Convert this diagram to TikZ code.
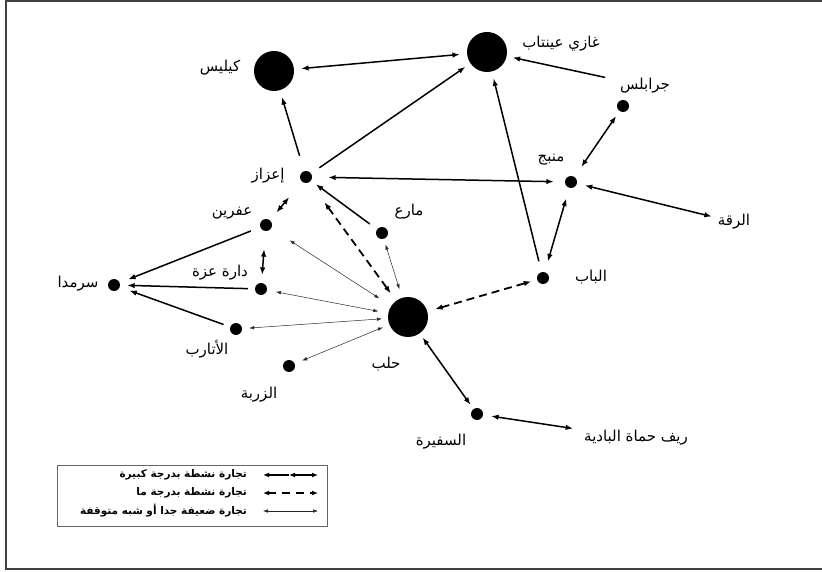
\documentclass[tikz,border=0pt]{standalone}
\usepackage{fontspec}
\usetikzlibrary{arrows.meta}
\TeXXeTstate=1
\newfontfamily\arabicfont[Script=Arabic]{DejaVu Sans}
\newcommand{\AR}[1]{\beginR #1\endR}
\begin{document}
\begin{tikzpicture}[x=1pt,y=-1pt,
  big/.style={circle,fill=black,minimum size=40pt,inner sep=0pt},
  small/.style={circle,fill=black,minimum size=12pt,inner sep=0pt},
  lbl/.style={font=\arabicfont\fontsize{15}{17}\selectfont,inner sep=1pt},
  legtext/.style={font=\arabicfont\bfseries\fontsize{10.5}{12}\selectfont,inner sep=0pt,anchor=east},
  strong/.style={line width=1.5pt,{Latex[length=7.5pt,width=5.5pt]}-{Latex[length=7.5pt,width=5.5pt]}},
  strongto/.style={line width=1.5pt,-{Latex[length=7.5pt,width=5.5pt]}},
  medium/.style={line width=1.8pt,dash pattern=on 8pt off 5pt,{Latex[length=7.5pt,width=5.5pt]}-{Latex[length=7.5pt,width=5.5pt]}},
  weak/.style={line width=0.5pt,black!85,{Latex[length=5pt,width=3.5pt]}-{Latex[length=5pt,width=3.5pt]}}
]
\useasboundingbox (0,0) rectangle (822,572);
\draw[black!75,line width=1.5pt] (823,1) -- (6,1) -- (6,569) -- (823,569);

% big nodes
\node[big] (kil) at (274,71) {};
\node[big] (gaz) at (487,52) {};
\node[big] (hal) at (408,317) {};
% small nodes
\node[small] (jar) at (623,106) {};
\node[small] (man) at (571,182) {};
\node[small] (aza) at (306,177) {};
\node[small] (afr) at (266,225) {};
\node[small] (dar) at (261,289) {};
\node[small] (sar) at (114,285) {};
\node[small] (atr) at (236,329) {};
\node[small] (zar) at (289,366) {};
\node[small] (mar) at (382,233) {};
\node[small] (bab) at (543,278) {};
\node[small] (saf) at (477,414) {};

% labels
\node[lbl] (lkil) at (220,68) {\AR{كيليس}};
\node[lbl] (lgaz) at (561,44) {\AR{غازي عينتاب}};
\node[lbl] (ljar) at (645,86) {\AR{جرابلس}};
\node[lbl] (lman) at (551,160) {\AR{منبج}};
\node[lbl] (lraq) at (734,222) {\AR{الرقة}};
\node[lbl] (laza) at (268,176) {\AR{إعزاز}};
\node[lbl] (lafr) at (232,213) {\AR{عفرين}};
\node[lbl] (lmar) at (409,212) {\AR{مارع}};
\node[lbl] (ldar) at (220,273) {\AR{دارة عزة}};
\node[lbl] (lsar) at (78,284) {\AR{سرمدا}};
\node[lbl] (latr) at (207,349) {\AR{الأتارب}};
\node[lbl] (lzar) at (259,395) {\AR{الزربة}};
\node[lbl] (lhal) at (386,364) {\AR{حلب}};
\node[lbl] (lbab) at (591,277) {\AR{الباب}};
\node[lbl] (lsaf) at (441,442) {\AR{السفيرة}};
\node[lbl] (lrif) at (636,438) {\AR{ريف حماة  البادية}};

% strong connectors
\draw[strong,shorten <=7pt,shorten >=7pt] (kil) -- (gaz);
\draw[strongto,shorten <=16pt,shorten >=7pt] (aza) -- (kil);
\draw[strongto,shorten <=10pt,shorten >=6pt] (aza) -- (gaz);
\draw[strongto,shorten <=14pt,shorten >=6pt] (ljar) -- (gaz);
\draw[strongto,shorten <=11pt,shorten >=7pt] (bab) -- (gaz);
\draw[strong,shorten <=6pt,shorten >=12pt] (jar) -- (man);
\draw[strong,shorten <=8pt,shorten >=5pt] (man) -- (lraq);
\draw[strong,shorten <=11pt,shorten >=11pt] (bab) -- (man);
\draw[strong,shorten <=16pt,shorten >=11pt] (aza) -- (man);
\draw[strong,shorten <=20pt,shorten >=10pt] (aza) -- (afr);
\draw[strongto,shorten <=9pt,shorten >=6pt] (mar) -- (aza);
\draw[strong,shorten <=18pt,shorten >=8pt] (afr) -- (dar);
\draw[strongto,shorten <=10pt,shorten >=9pt] (afr) -- (sar);
\draw[strongto,shorten <=7pt,shorten >=7pt] (dar) -- (sar);
\draw[strongto,shorten <=7pt,shorten >=10pt] (atr) -- (sar);
\draw[strong,shorten <=5pt,shorten >=5pt] (hal) -- (saf);
\draw[strong,shorten <=8pt,shorten >=10pt] (saf) -- (lrif);
% medium connectors
\draw[medium,shorten <=25pt,shorten >=9pt] (aza) -- (hal);
\draw[medium,shorten <=8pt,shorten >=6pt] (hal) -- (bab);
% weak connectors
\draw[weak,shorten <=14pt,shorten >=22pt] (hal) -- (afr);
\draw[weak,shorten <=10pt,shorten >=9pt] (hal) -- (dar);
\draw[weak,shorten <=6pt,shorten >=7pt] (hal) -- (atr);
\draw[weak,shorten <=7pt,shorten >=8pt] (hal) -- (zar);
\draw[weak,shorten <=9pt,shorten >=6pt] (hal) -- (mar);

% legend
\draw[black!60,line width=1pt] (57,465) rectangle (327,526);
\node[legtext] (t1) at (247,475) {\AR{تجارة نشطة بدرجة كبيرة}};
\node[legtext] (t2) at (247,493) {\AR{تجارة نشطة بدرجة ما}};
\node[legtext] (t3) at (247,511) {\AR{تجارة ضعيفة جدا أو شبه متوقفة}};
\coordinate (a1) at (263,475);
\coordinate (m1) at (289,475);
\coordinate (b1) at (318,475);
\coordinate (a2) at (263,493);
\coordinate (b2) at (318,493);
\coordinate (a3) at (263,511);
\coordinate (b3) at (318,511);
\draw[line width=1.5pt,{Latex[length=6pt,width=5pt]}-] (a1) -- (m1);
\draw[line width=1.5pt,{Latex[length=6pt,width=5pt]}-{Latex[length=6pt,width=5pt]}] (m1) -- (b1);
\draw[line width=1.5pt,dash pattern=on 8pt off 6pt,{Latex[length=6pt,width=5pt]}-{Latex[length=6pt,width=5pt]}] (a2) -- (b2);
\draw[weak] (a3) -- (b3);
\end{tikzpicture}
\end{document}
